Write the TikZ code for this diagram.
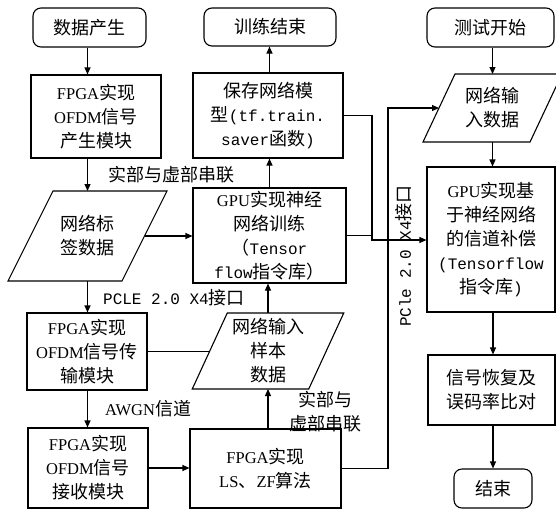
\documentclass[tikz,border=0pt]{standalone}
\usepackage{fontspec}
\setmainfont{Liberation Serif}
\setmonofont{Liberation Mono}
\newfontfamily\cjk{Noto Sans CJK SC}
\usetikzlibrary{arrows.meta}
\newcommand\zh[1]{{\cjk\fontsize{18}{24}\selectfont #1}}
\newcommand\mn[1]{{\ttfamily\fontsize{16}{24}\selectfont #1}}
\newcommand\fsz{\fontsize{16.5}{24}\selectfont}
\tikzset{
  box/.style={draw, line width=1.1pt, inner sep=0pt, align=center, font=\fsz},
  term/.style={box, rounded corners=8pt},
  txt/.style={inner sep=0pt, outer sep=0pt, align=center, font=\fsz},
  arr/.style={-{Triangle[length=7pt,width=6pt]}, line width=1.1pt},
  ln/.style={line width=1.1pt},
}
\begin{document}
\begin{tikzpicture}[x=1pt,y=-1pt]
\useasboundingbox (0,0) rectangle (556,509);
\clip (0,0) rectangle (556,509);
% left column
\node[term, minimum width=113, minimum height=39] (start1) at (89.5,27.5) {\zh{数据产生}};
\node[box, minimum width=130, minimum height=83] (fpga1) at (96,116.5) {FPGA\zh{实现}\\OFDM\zh{信号}\\\zh{产生模块}};
\node[txt, minimum width=114, minimum height=90] (lab) at (87.5,236) {\zh{网络标}\\\zh{签数据}};
\draw[ln] ([xshift=22.5]lab.north west) -- ([xshift=22.5]lab.north east) -- ([xshift=-22.5]lab.south east) -- ([xshift=-22.5]lab.south west) -- cycle;
\node[box, minimum width=120, minimum height=77] (fpga2) at (87,351.5) {FPGA\zh{实现}\\OFDM\zh{信号传}\\\zh{输模块}};
\node[box, minimum width=120, minimum height=80] (fpga3) at (88,468) {FPGA\zh{实现}\\OFDM\zh{信号}\\\zh{接收模块}};
% middle column
\node[term, minimum width=132, minimum height=38] (end1) at (270,27) {\zh{训练结束}};
\node[box, minimum width=150, minimum height=85] (save) at (268,115.5) {\zh{保存网络模}\\\zh{型}\mn{(tf.train.}\\\mn{saver}\zh{函数}\mn{)}};
\node[box, minimum width=153, minimum height=95] (gpu1) at (269.5,235.5) {GPU\zh{实现神经}\\\zh{网络训练}\\\zh{（}\mn{Tensor}\\\mn{flow}\zh{指令库）}};
\node[txt, minimum width=116.5, minimum height=76] (in3) at (268,351) {\zh{网络输入}\\\zh{样本}\\\zh{数据}};
\draw[ln] ([xshift=17.5]in3.north west) -- ([xshift=17.5]in3.north east) -- ([xshift=-17.5]in3.south east) -- ([xshift=-17.5]in3.south west) -- cycle;
\node[box, minimum width=151, minimum height=79] (ls) at (265.5,468.5) {FPGA\zh{实现}\\LS\zh{、}ZF\zh{算法}};
% right column
\node[term, minimum width=127, minimum height=39] (test) at (490.5,27.5) {\zh{测试开始}};
\node[txt, minimum width=107, minimum height=68] (in2) at (492.5,108) {\zh{网络输}\\\zh{入数据}};
\draw[ln] ([xshift=16]in2.north west) -- ([xshift=16]in2.north east) -- ([xshift=-16]in2.south east) -- ([xshift=-16]in2.south west) -- cycle;
\node[box, minimum width=128, minimum height=145] (gpu2) at (491,239.5) {GPU\zh{实现基}\\\zh{于神经网络}\\\zh{的信道补偿}\\\mn{(Tensorflow}\\\zh{指令库}\mn{)}};
\node[box, minimum width=127, minimum height=70] (rec) at (491.5,390) {\zh{信号恢复及}\\\zh{误码率比对}};
\node[term, minimum width=78, minimum height=39] (end2) at (493,488.5) {\zh{结束}};
% labels
\node[txt] (l1) at (171,175) {\zh{实部与虚部串联}};
\node[txt] (l2) at (174,298) {\mn{PCLE 2.0 X4}\zh{接口}};
\node[txt] (l3) at (148,409) {AWGN\zh{信道}};
\node[txt] (l4) at (325,412) {\zh{实部与}\\\zh{虚部串联}};
\node[txt, rotate=90] (l5) at (404,256) {\mn{PCle 2.0 X4}\zh{接口}};
% connectors
\coordinate (pc) at (388,0);
\coordinate (mg) at (372,240);
\draw[arr] (start1.south -| lab.north) -- (lab.north |- fpga1.north);
\draw[arr] (fpga1.south -| lab.north) -- (lab.north);
\draw[arr] (lab.east) -- (lab.east -| gpu1.west);
\draw[arr] (gpu1.north) -- (gpu1.north |- save.south);
\draw[arr] (save.north -| gpu1.north) -- (gpu1.north |- end1.south);
\draw[arr] (lab.south) -- (lab.south |- fpga2.north);
\draw[arr] (fpga2.south -| lab.south) -- (lab.south |- fpga3.north);
\draw[arr] (fpga3.east) -- (fpga3.east -| ls.west);
\draw[ln] (fpga2.east) -- (fpga2.east -| in3.west);
\draw[arr] (ls.north -| in3.south) -- (in3.south);
\draw[arr] (in3.north) -- (in3.north |- gpu1.south);
\draw[arr] (ls.east) -- (ls.east -| pc) -- (pc |- in2.west) -- (in2.west);
\draw[arr] (save.east) -- (save.east -| mg) -- (mg) -- (mg -| gpu2.west);
\draw[ln] (gpu1.east) -- (gpu1.east -| mg);
\draw[arr] (test.south -| in2.north) -- (in2.north);
\draw[arr] (in2.south) -- (in2.south |- gpu2.north);
\draw[arr] (gpu2.south -| end2.north) -- (end2.north |- rec.north);
\draw[arr] (rec.south -| end2.north) -- (end2.north);
\end{tikzpicture}
\end{document}
